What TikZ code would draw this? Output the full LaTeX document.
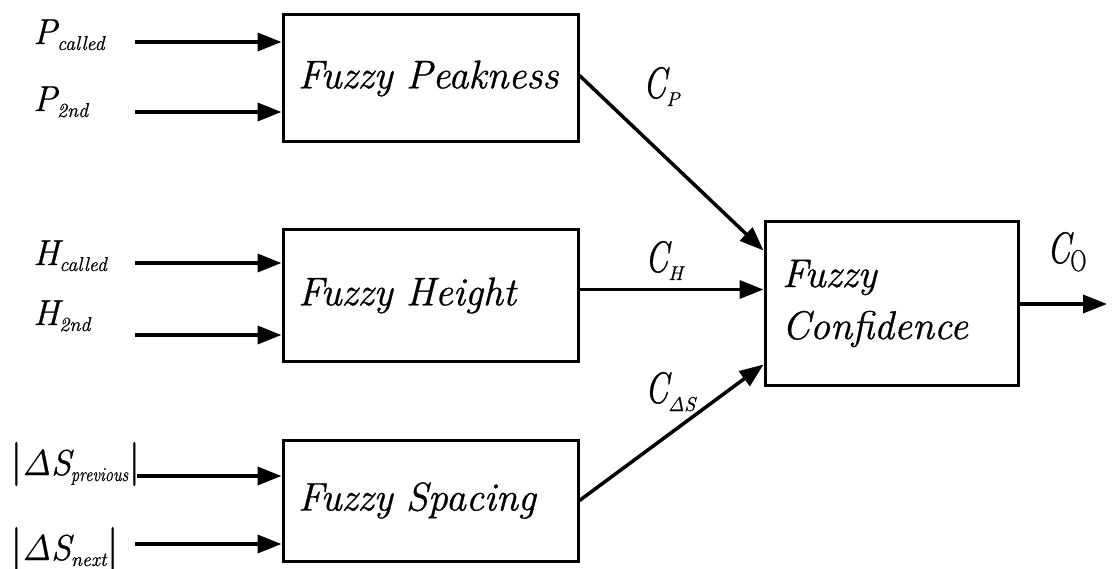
\documentclass[tikz,border=0pt]{standalone}
\usepackage{fontspec}
\setmainfont{Latin Modern Roman}[ItalicFeatures={FakeBold=0.8}, UprightFeatures={FakeBold=0.8}]
\usetikzlibrary{arrows.meta,calc}
\newcommand\inlbl[2]{{\fontsize{36}{36}\selectfont\itshape #1}\raisebox{-6pt}{\fontsize{20}{20}\selectfont\itshape #2}}
\newcommand\clbl[1]{\scalebox{0.75}[1]{\fontsize{44}{44}\selectfont\itshape C}\raisebox{-8pt}{\fontsize{20}{20}\selectfont #1}}
\newcommand\absbar{{\fontsize{44}{44}\selectfont\upshape |}}
\begin{document}
\begin{tikzpicture}[x=1pt,y=-1pt,
  box/.style={draw, line width=3pt, minimum width=295pt, text width=265pt,
    align=left, inner sep=0pt, font=\fontsize{40}{52}\selectfont\itshape},
  arr/.style={line width=3.5pt, -{Triangle[length=24pt,width=18pt]}},
  lbl/.style={anchor=base west, inner sep=0pt}]
\useasboundingbox (0,0) rectangle (1113,569);

% boxes
\node[box, minimum height=127pt] (pk) at (430.5,78.5) {Fuzzy Peakness};
\node[box, minimum height=131pt] (ht) at (430.5,295.5) {Fuzzy Height};
\node[box, minimum height=121pt] (sp) at (430.5,500.5) {Fuzzy Spacing};
\node[box, minimum width=253pt, minimum height=163pt, text width=219pt] (cf) at (891.5,303.5) {Fuzzy\\Confidence};

% input labels
\node[lbl] (lp1) at (33,44) {\inlbl{P}{called}};
\node[lbl] (lp2) at (33,111) {\inlbl{P}{2nd}};
\node[lbl] (lh1) at (33,265) {\inlbl{H}{called}};
\node[lbl] (lh2) at (33,325) {\inlbl{H}{2nd}};
\node[lbl] (ls1) at (10,475) {\absbar\inlbl{ΔS}{\scalebox{0.82}[1]{previous}}\absbar};
\node[lbl] (ls2) at (10,560) {\absbar\inlbl{ΔS}{next}\absbar};

% input arrow starts
\coordinate (i1) at (135,42);
\coordinate (i2) at (135,112);
\coordinate (i3) at (135,263);
\coordinate (i4) at (135,335);
\coordinate (i5) at (137,476);
\coordinate (i6) at (135,544);

\draw[arr] (i1) -- (i1 -| pk.west);
\draw[arr] (i2) -- (i2 -| pk.west);
\draw[arr] (i3) -- (i3 -| ht.west);
\draw[arr] (i4) -- (i4 -| ht.west);
\draw[arr] (i5) -- (i5 -| sp.west);
\draw[arr] (i6) -- (i6 -| sp.west);

% to confidence
\coordinate (ht0) at ($(ht.east)+(0,-6)$);
\draw[arr] ($(pk.east)+(0,-3)$) -- ($(cf.north west)+(0,30)$);
\draw[arr] (ht0) -- (ht0 -| cf.west);
\draw[arr] (sp.east) -- ($(cf.south west)+(0,-22)$);

% output
\coordinate (out) at (1107,304);
\draw[arr] (out -| cf.east) -- (out);

% connector labels
\node[lbl] (cp) at (643,98) {\clbl{\itshape P}};
\node[lbl] (ch) at (645,272) {\clbl{\itshape H}};
\node[lbl] (cs) at (645,403) {\clbl{\itshape ΔS}};
\node[lbl] (co) at (1047,263) {\clbl{\scalebox{0.75}[1]{\fontsize{30}{30}\selectfont O}}};
\end{tikzpicture}
\end{document}
